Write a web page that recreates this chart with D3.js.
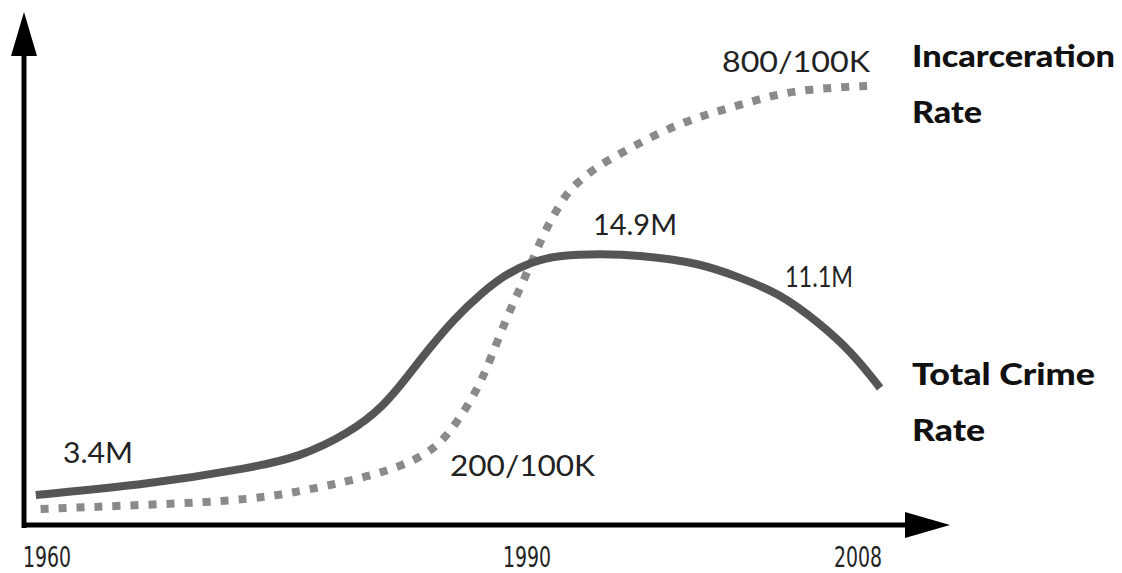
<!DOCTYPE html>
<html>
<head>
<meta charset="utf-8">
<script src="https://cdn.jsdelivr.net/npm/d3@7"></script>
<style>
  body { margin:0; background:#fff; }
  svg { display:block; }
</style>
</head>
<body>
<div id="chart"></div>
<script>
// data
var tickYears = [1960, 1990, 2008];
var crimeYears = [1959.3, 1966.4, 1972.7, 1975.8, 1978.9, 1981, 1982.5, 1983.9, 1985.5, 1987.1, 1988.6, 1990.2, 1991.8, 1994, 1996.1, 1999.4, 2001.5, 2003.7, 2005.9, 2007.7, 2009.2];
var crimeValues = [3.4, 3.92, 4.69, 5.21, 6.36, 7.6, 9.03, 10.41, 11.85, 13.0, 13.9, 14.52, 14.85, 14.9, 14.85, 14.47, 13.8, 13.04, 11.61, 10.18, 8.51];
var incYears = [1959.6, 1966.4, 1973, 1976.9, 1980, 1982.7, 1984.4, 1985.6, 1986.9, 1987.7, 1988.75, 1989.6, 1990.54, 1991.09, 1991.63, 1992.17, 1992.88, 1993.8, 1994.7, 1997.1, 1999.3, 2001.6, 2004, 2006.4, 2008.5];
var incValues = [100, 107, 115, 135, 153, 176, 203, 242, 297, 347, 418, 467, 529, 567, 595, 623, 644, 666, 682, 722, 749, 769, 790, 797, 800];

var W = 1122, H = 573;
var svg = d3.select("#chart").append("svg").attr("width", W).attr("height", H);

// scales (the sketch isn't evenly spaced in time)
var x = d3.scaleLinear().domain([1960, 1990, 2008]).range([47, 527, 858]);
var yCrime = d3.scaleLinear().domain([3.4, 14.9]).range([495, 254]);
var yInc = d3.scaleLinear().domain([100, 800]).range([509, 86]);

var x0 = 24, y0 = 525;

//axes with arrow heads
svg.append("line").attr("x1", x0).attr("y1", 50).attr("x2", x0).attr("y2", y0 + 3)
  .attr("stroke", "#000").attr("stroke-width", 5);
svg.append("line").attr("x1", x0 - 2).attr("y1", y0).attr("x2", 910).attr("y2", y0)
  .attr("stroke", "#000").attr("stroke-width", 5);
svg.append("path").attr("d", "M" + x0 + ",12 L" + (x0 + 13) + ",56 L" + (x0 - 13) + ",56 Z").attr("fill", "#000");
svg.append("path").attr("d", "M950," + y0 + " L905," + (y0 - 13) + " L905," + (y0 + 13) + " Z").attr("fill", "#000");

// year labels
svg.append("g").selectAll("text").data(tickYears).enter().append("text")
  .attr("x", function(d){ return x(d); })
  .attr("y", 567)
  .attr("text-anchor", "middle")
  .attr("font-family", "'Liberation Sans Narrow', 'DejaVu Sans Condensed', sans-serif")
  .attr("font-size", "28px")
  .attr("textLength", 48)
  .attr("lengthAdjust", "spacingAndGlyphs")
  .attr("fill", "#222")
  .text(function(d){ return d; });

// incarceration (dotted)
var incData = incYears.map(function(d, i){ return {year:d, v:incValues[i]}; });
svg.append("path").datum(incData)
  .attr("d", d3.line().x(function(d){ return x(d.year); }).y(function(d){ return yInc(d.v); }).curve(d3.curveBasis))
  .attr("fill", "none").attr("stroke", "#8a8a8a").attr("stroke-width", 8)
  .attr("stroke-dasharray", "8,10");

// crime (solid)
var crimeData = crimeYears.map(function(d, i){ return {year:d, v:crimeValues[i]}; });
svg.append("path").datum(crimeData)
  .attr("d", d3.line().x(function(d){ return x(d.year); }).y(function(d){ return yCrime(d.v); }).curve(d3.curveBasis))
  .attr("fill", "none").attr("stroke", "#555").attr("stroke-width", 8)
  .attr("stroke-linecap", "butt");

// value annotations
var labelFont = "Lato, 'Open Sans', sans-serif";
function note(t, px, py, w) {
  svg.append("text").attr("x", px).attr("y", py)
    .attr("font-family", labelFont).attr("font-size", "28px")
    .attr("textLength", w).attr("lengthAdjust", "spacingAndGlyphs")
    .attr("fill", "#222").text(t);
}
note("3.4M", 63, 463, 70);
note("200/100K", 450, 476, 145);
note("14.9M", 593, 235, 84);
note("11.1M", 785, 287, 68);
note("800/100K", 722, 72, 148);

// series names
function title(lines, widths, px, py) {
  var t = svg.append("text").attr("x", px).attr("y", py)
    .attr("font-family", labelFont).attr("font-weight", "900")
    .attr("font-size", "30px").attr("fill", "#111");
  lines.forEach(function(l, i){
    t.append("tspan").attr("x", px).attr("dy", i ? 56 : 0)
      .attr("textLength", widths[i]).attr("lengthAdjust", "spacingAndGlyphs").text(l);
  });
}
title(["Incarceration", "Rate"], [203, 70], 912, 67);
title(["Total Crime", "Rate"], [183, 73], 912, 385);
</script>
</body>
</html>
